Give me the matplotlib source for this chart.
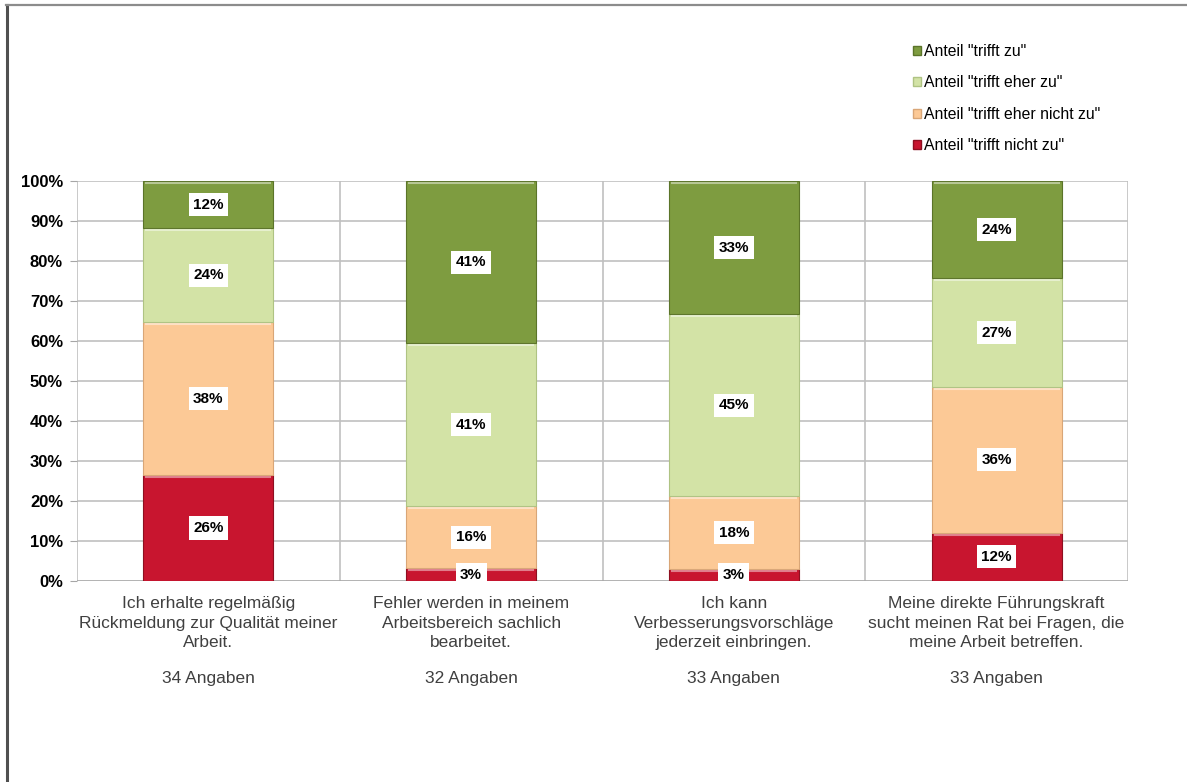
import matplotlib
matplotlib.use("Agg")
import matplotlib.pyplot as plt
from matplotlib.patches import Patch
from matplotlib.lines import Line2D
from matplotlib.transforms import blended_transform_factory

plt.rcParams['font.family'] = ['Liberation Sans', 'DejaVu Sans']

# ---- Daten ----
fragen = ["Ich erhalte regelmäßig\nRückmeldung zur Qualität meiner\nArbeit.",
          "Fehler werden in meinem\nArbeitsbereich sachlich\nbearbeitet.",
          "Ich kann\nVerbesserungsvorschläge\njederzeit einbringen.",
          "Meine direkte Führungskraft\nsucht meinen Rat bei Fragen, die\nmeine Arbeit betreffen."]
angaben = [34, 32, 33, 33]

trifft_nicht_zu = [26.47, 3.13, 3.03, 12.12]
trifft_eher_nicht_zu = [38.24, 15.63, 18.18, 36.36]
trifft_eher_zu = [23.53, 40.63, 45.45, 27.27]
trifft_zu = [11.76, 40.63, 33.33, 24.24]

serien = [("Anteil \"trifft nicht zu\"", trifft_nicht_zu, "#C8152F", "#8E0F20"),
          ("Anteil \"trifft eher nicht zu\"", trifft_eher_nicht_zu, "#FCC996", "#D9A677"),
          ("Anteil \"trifft eher zu\"", trifft_eher_zu, "#D3E3A6", "#AFC383"),
          ("Anteil \"trifft zu\"", trifft_zu, "#7E9C40", "#5B7429")]

fig = plt.figure(figsize=(11.87, 7.82), dpi=100)
ax = fig.add_axes([77/1187, 1-581/782, (1128-77)/1187, 400/782])

x = [i + 0.5 for i in range(len(fragen))]
unten = [0.0] * len(fragen)
for name, werte, farbe, rand in serien:
    ax.bar(x, werte, width=0.495, bottom=unten, color=farbe, edgecolor=rand,
           linewidth=0.8, zorder=3)
    # heller Streifen oben (Bevel-Effekt)
    for xi, b, w in zip(x, unten, werte):
        ax.plot([xi - 0.24, xi + 0.24], [b + w - 0.5, b + w - 0.5], color="white",
                alpha=0.45, lw=1.5, zorder=4, solid_capstyle="butt")
        ax.text(xi, b + w / 2, f"{round(w)}%", ha="center", va="center",
                fontsize=11, fontweight="bold", color="black", zorder=5,
                bbox=dict(boxstyle="square,pad=0.3", fc="white", ec="none"))
    unten = [u + w for u, w in zip(unten, werte)]

ax.set_xlim(0, 4)
ax.set_ylim(0, 100)
ax.set_yticks(range(0, 101, 10))
ax.set_yticklabels([f"{v}%" for v in range(0, 101, 10)], fontsize=12, fontweight="bold")
ax.set_xticks([])
ax.tick_params(axis="y", length=5, color="#A6A6A6", pad=5)
for v in range(10, 101, 10):
    ax.axhline(v, color="#C0C0C0", lw=1.2, zorder=1)
for v in range(0, 5):
    ax.axvline(v, color="#C0C0C0", lw=1.2, zorder=1)
for s in ax.spines.values():
    s.set_visible(False)
ax.axhline(0, color="#A6A6A6", lw=1.2, zorder=2)

trans = blended_transform_factory(ax.transData, ax.transAxes)
for xi, frage, n in zip(x, fragen, angaben):
    ax.text(xi, -0.038, frage, transform=trans, ha="center", va="top",
            fontsize=12.5, color="#404040", linespacing=1.36)
    ax.text(xi, -0.2425, f"{n} Angaben", transform=trans, ha="center", va="center",
            fontsize=12.5, color="#404040")

handles = [Patch(facecolor=f, edgecolor=r, label=n) for n, _, f, r in serien][::-1]
fig.legend(handles=handles, loc="upper left", bbox_to_anchor=(913/1187, 1-44/782),
           frameon=False, fontsize=11.3, handlelength=0.5, handleheight=0.5,
           handletextpad=0.2, labelspacing=1.05, borderpad=0, borderaxespad=0)

# Rahmen
fig.add_artist(Line2D([7/1187, 7/1187], [0, 1-5/782], color="#505050", lw=2.2))
fig.add_artist(Line2D([6/1187, 1], [1-5/782, 1-5/782], color="#8C8C8C", lw=1.6))

fig.savefig("out.png", dpi=100, facecolor="white")
